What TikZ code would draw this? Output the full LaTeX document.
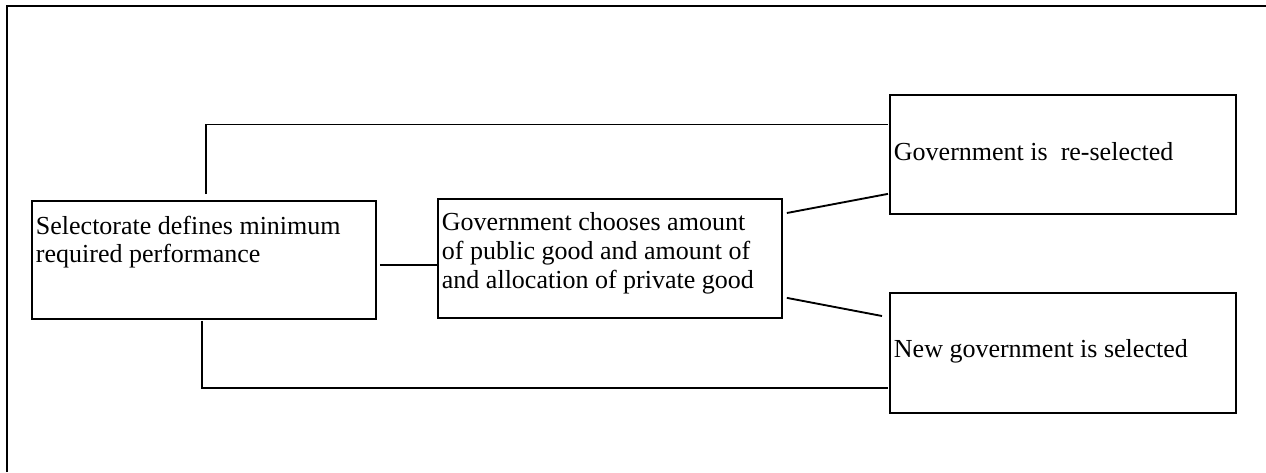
\documentclass[tikz,border=0pt]{standalone}
\usepackage{fontspec}
\setmainfont{Liberation Serif}
\newcommand{\stagetext}[4]{\parbox[c][#2][t]{#1}{\raggedright\vspace*{#3}#4}}
\begin{document}
\begin{tikzpicture}[x=0.75pt, y=-0.75pt, line width=1.4pt,
	stage/.style = {draw, rectangle, anchor=north west, inner xsep=3pt, inner ysep=0pt, font=\fontsize{19.5}{21.4}\selectfont},
	frame/.style = {line width=2pt}]
	\useasboundingbox (0,0) rectangle (1266,472);
	\draw[frame] (7,472) -- (7,6) -- (1266,6);
	\node[stage] (sel) at (31,200) {\stagetext{252pt}{88.5pt}{11.25pt}{Selectorate defines minimum\\ required performance}};
	\node[stage] (gov) at (437,198) {\stagetext{252pt}{89.25pt}{10.5pt}{Government chooses amount\\ of public good and amount of\\ and allocation of private good}};
	\node[stage] (resel) at (889,94) {\stagetext{253.5pt}{89.25pt}{36pt}{Government is~ re-selected}};
	\node[stage] (newgov) at (889,292) {\stagetext{253.5pt}{90pt}{35.25pt}{New government is selected}};
	\draw ([shift={(3,5)}]sel.east) -- ([shift={(0,6.5)}]gov.west);
	\draw ([shift={(2,-6)}]sel.north) |- ([shift={(-1,30.5)}]resel.north west);
	\draw ([shift={(-2,1)}]sel.south) |- ([shift={(-1,96)}]newgov.north west);
	\draw ([shift={(4,15)}]gov.north east) -- ([shift={(-1,-21)}]resel.south west);
	\draw ([shift={(4,-21)}]gov.south east) -- ([shift={(-7,24)}]newgov.north west);
\end{tikzpicture}
\end{document}
